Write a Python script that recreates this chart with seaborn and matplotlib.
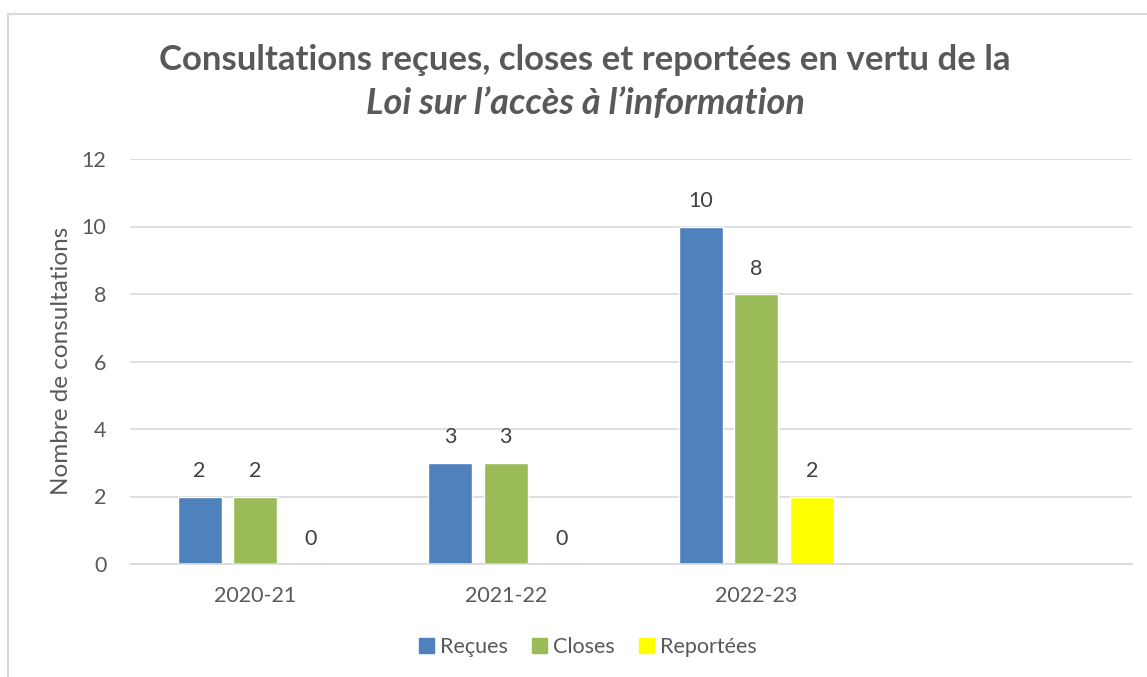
import pandas as pd
import matplotlib.pyplot as plt
import seaborn as sns
from matplotlib.patches import Patch, Rectangle
from matplotlib.ticker import FixedLocator

annees = ['2020-21', '2021-22', '2022-23']
recues = [2, 3, 10]
closes = [2, 3, 8]
reportees = [0, 0, 2]
series = ['Reçues', 'Closes', 'Reportées']
couleurs = ['#4F81BD', '#9BBB59', '#FFFF00']

df = pd.DataFrame({
    'annee': annees * 3,
    'nombre': recues + closes + reportees,
    'serie': [s for s in series for _ in annees],
})

sns.set_theme(style='white')
plt.rcParams['font.family'] = ['Lato', 'DejaVu Sans']
gris = '#595959'
ligne = '#D9D9D9'

fig = plt.figure(figsize=(11.47, 6.77), dpi=100)
ax = fig.add_axes([130 / 1147, 1 - 564 / 677, 1002 / 1147, 405 / 677])

sns.barplot(data=df, x='annee', y='nombre', hue='serie',
            order=annees + [''], hue_order=series,
            palette=couleurs, saturation=1, width=0.667, gap=0.21,
            ax=ax, legend=False)

for cont in ax.containers:
    ax.bar_label(cont, fmt='%g', padding=11, fontsize=15.5, color='#404040')

ax.set_ylim(0, 12)
ax.set_yticks(range(0, 13, 2))
ax.set_xlim(-0.5, 3.5)
ax.yaxis.grid(True, color=ligne, linewidth=1.2)
ax.set_axisbelow(True)
for s in ['top', 'right', 'left']:
    ax.spines[s].set_visible(False)
ax.spines['bottom'].set_color(ligne)
ax.spines['bottom'].set_linewidth(1.2)

ax.tick_params(axis='y', length=0, pad=17, labelsize=15.5, labelcolor=gris)
ax.tick_params(axis='x', which='major', length=0, pad=16, labelsize=15.5, labelcolor=gris)
ax.xaxis.set_minor_locator(FixedLocator([-0.5, 0.5, 1.5, 2.5, 3.5]))
ax.tick_params(axis='x', which='minor', length=6, color=ligne, width=1.2)

ax.set_xlabel('')
ax.set_ylabel('')
fig.text(62 / 1147, 1 - 361 / 677, 'Nombre de consultations', rotation=90,
         ha='center', va='center', fontsize=17.5, color=gris)

fig.text(585 / 1147, 1 - 60 / 677,
         'Consultations reçues, closes et reportées en vertu de la',
         ha='center', va='center', fontsize=25, fontweight='bold', color=gris)
fig.text(585 / 1147, 1 - 104 / 677,
         'Loi sur l\u2019accès à l\u2019information',
         ha='center', va='center', fontsize=26, fontweight='bold',
         style='italic', color=gris)

handles = [Patch(facecolor=c, edgecolor=c) for c in couleurs]
fig.legend(handles, series, loc='center', bbox_to_anchor=(588 / 1147, 1 - 647 / 677),
           ncol=3, frameon=False, fontsize=15.5, labelcolor=gris,
           handlelength=0.7, handleheight=0.7, handletextpad=0.3, columnspacing=1.1)

fig.patches.append(Rectangle((8 / 1147, -0.1), 1.2, 1.1 - 14 / 677,
                             transform=fig.transFigure, fill=False,
                             edgecolor=ligne, linewidth=1.5))

plt.savefig('out.png', dpi=100)
plt.close()
